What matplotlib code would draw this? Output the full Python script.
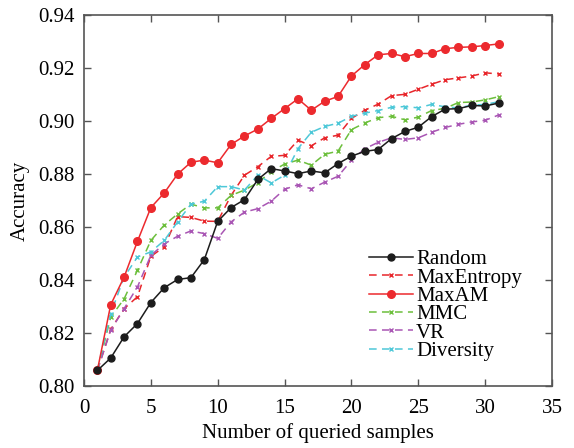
import matplotlib
matplotlib.use("Agg")
import matplotlib.pyplot as plt

# Accuracy vs. number of queried samples for each query strategy
n_queried = list(range(1, 32))

random_acc = [0.806, 0.8107, 0.8187, 0.8237, 0.8316, 0.8372, 0.8403, 0.8410, 0.8478, 0.8622,
              0.8674, 0.8704, 0.8780, 0.8821, 0.8812, 0.8802, 0.8812, 0.8805, 0.8840, 0.8868,
              0.8886, 0.8893, 0.8934, 0.8961, 0.8977, 0.9017, 0.9045, 0.9047, 0.9059, 0.9057,
              0.9068]
maxentropy_acc = [0.806, 0.8215, 0.8293, 0.8338, 0.8490, 0.8526, 0.8640, 0.8637, 0.8623, 0.8622,
                  0.8720, 0.8796, 0.8828, 0.8867, 0.8871, 0.8928, 0.8907, 0.8937, 0.8947, 0.9010,
                  0.9041, 0.9064, 0.9096, 0.9101, 0.9120, 0.9139, 0.9156, 0.9163, 0.9170, 0.9182,
                  0.9178]
maxam_acc = [0.806, 0.8308, 0.8412, 0.8547, 0.8674, 0.8729, 0.8800, 0.8845, 0.8853, 0.8843,
             0.8912, 0.8944, 0.8970, 0.9010, 0.9047, 0.9084, 0.9041, 0.9075, 0.9093, 0.9170,
             0.9213, 0.9250, 0.9255, 0.9243, 0.9255, 0.9255, 0.9273, 0.9278, 0.9280, 0.9285,
             0.9291]
mmc_acc = [0.806, 0.8261, 0.8330, 0.8438, 0.8550, 0.8608, 0.8650, 0.8687, 0.8673, 0.8673,
           0.8720, 0.8740, 0.8768, 0.8810, 0.8838, 0.8853, 0.8834, 0.8875, 0.8887, 0.8968,
           0.8993, 0.9013, 0.9018, 0.9005, 0.9015, 0.9040, 0.9048, 0.9070, 0.9072, 0.9080,
           0.9092]
vr_acc = [0.806, 0.8212, 0.8293, 0.8375, 0.8494, 0.8537, 0.8566, 0.8586, 0.8576, 0.8558,
          0.8620, 0.8657, 0.8670, 0.8698, 0.8743, 0.8760, 0.8745, 0.8770, 0.8792, 0.8852,
          0.8896, 0.8920, 0.8937, 0.8931, 0.8937, 0.8958, 0.8976, 0.8988, 0.8997, 0.9003,
          0.9023]
diversity_acc = [0.806, 0.8274, 0.8412, 0.8488, 0.8507, 0.8550, 0.8620, 0.8687, 0.8698, 0.8753,
                 0.8753, 0.8740, 0.8796, 0.8767, 0.8796, 0.8896, 0.8958, 0.8980, 0.8992, 0.9018,
                 0.9030, 0.9040, 0.9052, 0.9055, 0.9050, 0.9063, 0.9054, 0.9050, 0.9060, 0.9063,
                 0.9073]

x_ticks = [0, 5, 10, 15, 20, 25, 30, 35]
y_ticks = [0.80, 0.82, 0.84, 0.86, 0.88, 0.90, 0.92, 0.94]

plt.rcParams["font.family"] = ["Liberation Serif", "DejaVu Serif"]
plt.rcParams["font.size"] = 15

fig = plt.figure(figsize=(5.74, 4.48), dpi=100)
ax = fig.add_axes([0.1463, 0.1375, 0.8154, 0.829])

dash = (5, 3.5)
ax.plot(n_queried, random_acc, color="#1c1c1c", lw=1.1, marker="o", ms=5,
        label="Random", zorder=5)
ax.plot(n_queried, maxentropy_acc, color="#e8262b", lw=1.1, ls="--", dashes=dash,
        marker="x", ms=3.5, mew=1.0, label="MaxEntropy", zorder=3)
ax.plot(n_queried, maxam_acc, color="#ec2a2e", lw=1.1, marker="o", ms=5.5,
        label="MaxAM", zorder=4)
ax.plot(n_queried, mmc_acc, color="#6cbf3c", lw=1.1, ls="--", dashes=dash,
        marker="x", ms=3.5, mew=1.0, label="MMC", zorder=3)
ax.plot(n_queried, vr_acc, color="#a956b4", lw=1.1, ls="--", dashes=dash,
        marker="x", ms=3.5, mew=1.0, label="VR", zorder=3)
ax.plot(n_queried, diversity_acc, color="#4ec8d8", lw=1.1, ls="--", dashes=dash,
        marker="x", ms=3.5, mew=1.0, label="Diversity", zorder=3)

ax.set_xlim(0, 35)
ax.set_ylim(0.80, 0.94)
ax.set_xticks(x_ticks)
ax.set_yticks(y_ticks)
ax.set_yticklabels([f"{v:.2f}" for v in y_ticks])
ax.tick_params(direction="in", top=True, right=True, length=5, width=1,
               color="#555555", labelsize=15)
ax.tick_params(axis="x", pad=9)
ax.tick_params(axis="y", pad=7)
for sp in ax.spines.values():
    sp.set_color("#555555")
    sp.set_linewidth(1.2)

ax.set_xlabel("Number of queried samples", fontsize=15, labelpad=4)
ax.set_ylabel("Accuracy", fontsize=15, labelpad=6)

ax.legend(loc="upper left", bbox_to_anchor=(0.609, 0.368), frameon=False,
          fontsize=15, handlelength=2.1, handletextpad=0.15, labelspacing=-0.06,
          borderpad=0, borderaxespad=0)

fig.savefig("out.png", dpi=100)
